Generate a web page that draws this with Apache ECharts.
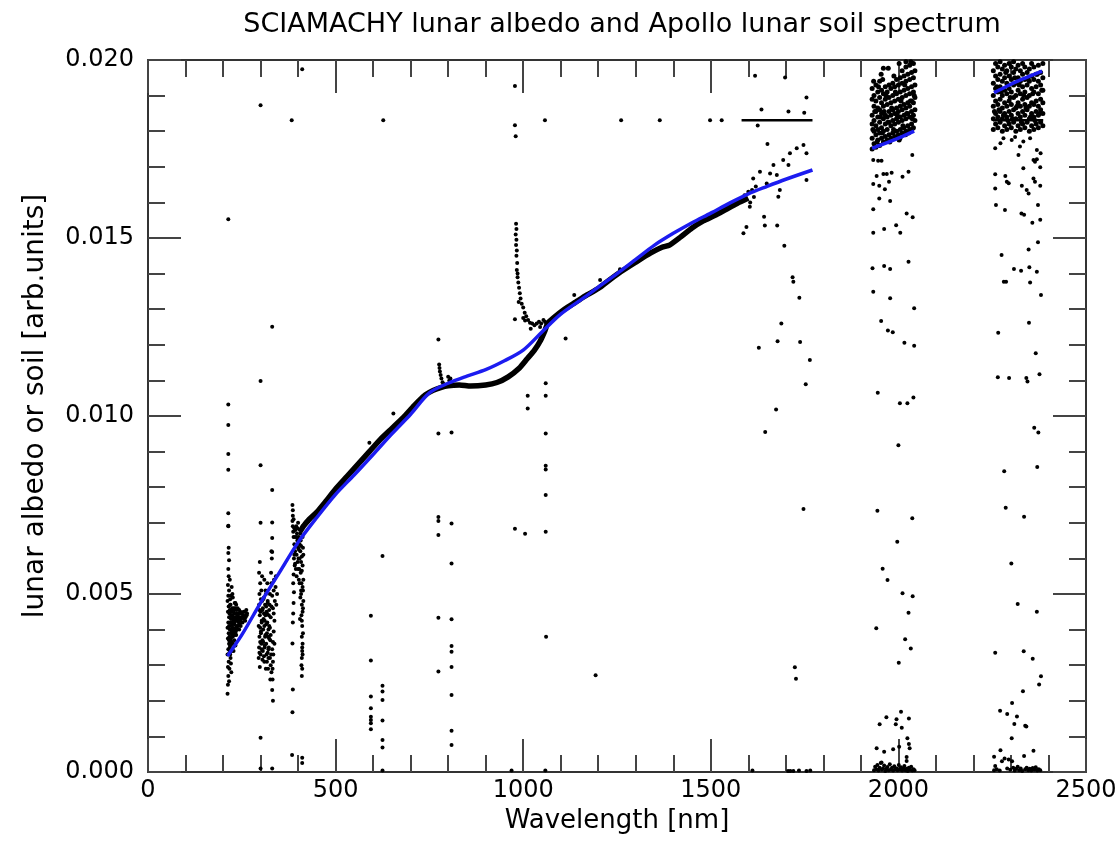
<!DOCTYPE html>
<html>
<head>
<meta charset="utf-8">
<script src="https://cdn.jsdelivr.net/npm/echarts@6/dist/echarts.min.js"></script>
<style>
html,body{margin:0;padding:0;background:#fff;}
#chart{width:1120px;height:841px;}
</style>
</head>
<body>
<div id="chart"></div>
<script>
// ---------------- DATA (y values in units of 1e-3) ----------------
const TITLE = 'SCIAMACHY lunar albedo and Apollo lunar soil spectrum';
const X_NAME = 'Wavelength [nm]';
const Y_NAME = 'lunar albedo or soil [arb.units]';
const X_TICKS = [0, 500, 1000, 1500, 2000, 2500];
const Y_TICKS = [0.000, 0.005, 0.010, 0.015, 0.020];

// Apollo lunar soil spectrum (blue), three segments
const soilSeg1 = [[212,3.26],[250,3.85],[300,4.75],[350,5.6],[400,6.45],[450,7.15],[500,7.8],[550,8.35],[600,8.92],[650,9.5],[700,10.05],[750,10.65],[800,10.92],[850,11.12],[900,11.3],[950,11.55],[1000,11.85],[1050,12.36],[1100,12.86],[1160,13.31],[1200,13.62],[1250,14.0],[1300,14.4],[1350,14.8],[1400,15.13],[1450,15.43],[1500,15.7],[1550,15.98],[1600,16.24],[1650,16.45],[1700,16.65],[1771,16.91]];
const soilSeg2 = [[1930,17.52],[1970,17.68],[2010,17.85],[2042,18.0]];
const soilSeg3 = [[2255,19.08],[2290,19.27],[2330,19.46],[2383,19.69]];

// SCIAMACHY albedo: dense continuous trace (drawn as thick band)
const albedoTrace = [[405,6.75],[414,6.9],[430,7.1],[450,7.3],[470,7.55],[500,7.95],[530,8.3],[560,8.65],[590,9.0],[620,9.35],[650,9.65],[680,9.95],[710,10.3],[740,10.6],[760,10.72],[780,10.8],[800,10.85],[830,10.87],[860,10.84],[900,10.87],[930,10.94],[960,11.1],[990,11.35],[1010,11.6],[1030,11.85],[1045,12.1],[1058,12.4],[1065,12.6],[1080,12.75],[1110,13.0],[1140,13.2],[1170,13.4],[1200,13.58],[1230,13.82],[1260,14.05],[1300,14.32],[1340,14.58],[1370,14.74],[1390,14.8],[1420,15.03],[1450,15.28],[1480,15.48],[1510,15.63],[1540,15.8],[1570,15.97],[1600,16.12]];
// flag lines at 0.0183
const flagLine1 = [[1582,18.31],[1771,18.31]];
const flagLine2 = [[2252,18.31],[2386,18.31]];

// UV clusters
const albedoUV1 = [[212,2.2],[213,2.45],[214,2.7],[213,2.95],[215,3.1],[212,3.3],[214,3.45],[216,3.6],[213,3.75],[215,3.9],[212,4.05],[214,4.2],[216,4.35],[213,4.5],[215,4.65],[212,4.8],[214,4.95],[216,5.1],[213,5.25],[215,5.5],[214,5.7],[216,5.95],[214,6.15],[215,6.3],[214,6.9],[216,2.55],[217,2.9],[218,3.5],[220,3.7],[222,3.9],[219,4.1],[221,4.3],[223,4.5],[220,4.7],[224,3.6],[226,3.8],[225,4.0],[227,4.2],[224,4.4],[228,4.6],[226,4.9],[230,3.7],[229,3.95],[231,4.15],[232,4.35],[230,4.55],[233,4.75],[235,3.85],[234,4.05],[236,4.25],[237,4.45],[238,4.1],[240,4.3],[239,4.6],[242,4.2],[241,4.45],[244,4.35],[246,4.5],[243,4.0],[248,4.3],[250,4.45],[252,4.2],[254,4.4],[256,4.3],[258,4.5],[260,4.35],[262,4.55],[264,4.45],[219,3.3],[221,3.05],[223,5.2],[218,5.4],[220,3.2],[225,5.0],[222,2.8],[217,3.8],[219,4.85],[228,3.4],[233,3.55],
  [217,3.35],[219,3.55],[221,3.75],[223,3.95],[225,4.15],[227,4.35],[229,4.55],[231,4.75],[218,4.0],[220,4.2],[222,4.4],[224,4.6],[226,4.3],[228,4.0],[230,4.2],[232,3.9],[234,4.3],[236,4.0],[238,4.4],[240,4.1],[242,4.35],[244,4.15],[246,4.25],[248,4.45],[218,4.55],[220,3.45],[222,3.65],[224,3.85],[226,4.05],[228,4.25],[230,4.45],[232,4.6],[234,3.95],[236,4.55],[216,3.7],[216,4.1],[217,4.45],[219,4.7],[221,4.95],[223,3.4],[227,3.6],[231,3.85],[235,4.7],[239,4.25],[243,4.55],[247,4.1],[251,4.35],[255,4.5],[259,4.25],[263,4.4]];
const albedoUV2 = [[295,3.2],[296,3.5],[297,3.8],[295,4.1],[298,4.4],[296,4.7],[297,5.0],[299,5.3],[296,5.6],[298,5.9],[300,3.3],[302,3.6],[301,3.9],[303,4.2],[300,4.5],[304,4.8],[302,5.1],[306,3.4],[305,3.7],[307,4.0],[308,4.3],[306,4.6],[309,4.9],[310,3.1],[311,3.5],[312,3.8],[310,4.1],[313,4.4],[312,4.7],[314,5.0],[316,3.3],[315,3.6],[317,3.9],[318,4.2],[316,4.5],[319,4.8],[320,2.9],[321,3.2],[322,3.5],[320,3.8],[323,4.1],[322,4.4],[324,4.7],[325,5.0],[326,2.6],[327,3.0],[328,3.3],[326,3.7],[329,5.3],[328,5.6],[330,6.0],[329,6.2],[331,2.3],[332,2.6],[333,2.0],[332,2.9],[334,3.3],[333,4.6],[335,5.1],[336,5.4],[338,4.8],[340,5.2],[342,4.7],[344,5.0],[341,5.5],[304,5.5],[298,2.95],[318,5.3],[310,5.4],[314,2.9],
  [297,3.35],[299,3.65],[301,3.95],[303,4.25],[305,4.55],[307,4.85],[309,3.25],[311,3.55],[313,3.85],[315,4.15],[317,4.45],[319,4.75],[321,3.45],[323,3.75],[325,4.05],[327,4.35],[329,4.65],[331,4.95],[333,3.65],[335,3.95],[337,4.25],[299,4.05],[303,3.45],[307,3.65],[311,4.25],[315,4.65],[319,3.35],[323,4.55],[327,3.85],[331,3.45],[335,4.45],[297,4.55],[301,4.85],[305,3.15],[309,4.45],[313,5.1],[317,3.1],[321,4.0],[325,3.2],[329,2.8],[333,3.1],[337,3.6]];
const albedoUV3 = [[385,7.5],[386,7.35],[386,7.2],[385,7.05],[386,6.9],[387,6.75],[388,6.6],[390,6.4],[392,6.2],[389,6.0],[391,5.8],[388,5.55],[387,5.3],[389,5.05],[388,4.75],[387,4.45],[386,4.2],[385,3.61],[386,2.32],[385,1.68],[384,0.48],[395,6.9],[397,6.7],[398,6.5],[400,6.3],[396,6.1],[399,5.9],[402,6.6],[404,6.4],[401,6.0],[403,5.7],[405,6.8],[407,6.5],[406,6.2],[408,5.9],[407,5.6],[409,5.3],[408,5.0],[410,4.7],[409,4.4],[411,4.1],[410,3.8],[411,3.5],[410,3.2],[411,2.9],[410,2.7],[412,6.9],[413,6.3],[412,5.8],[414,5.4],[413,5.1],[412,4.5],[413,3.9],[412,3.3],[400,7.0],[393,6.8],[394,5.7],[402,5.4],[406,4.9],[405,4.3],[411,0.25],[411,0.4],
  [388,7.1],[390,6.85],[392,6.6],[394,6.35],[396,6.6],[398,6.85],[400,6.55],[402,6.25],[404,6.0],[406,6.7],[408,6.35],[410,6.05],[412,6.6],[390,6.1],[392,5.85],[396,5.5],[400,5.7],[404,5.3],[408,5.1],[410,5.65],[412,5.2],[414,6.1],[414,4.8],[410,4.25],[412,3.6],[409,3.0],[411,3.4],[413,4.6]];

// spikes and fuzz around the trace
const albedoSpikes = [[776,11.45],[777,11.35],[778,11.25],[780,11.15],[782,11.05],[785,10.95],[788,10.9],[800,11.1],[803,11.0],[806,11.05],[981,15.4],[982,15.25],[980,15.1],[982,14.95],[981,14.8],[983,14.65],[982,14.5],[984,14.3],[983,14.1],[985,13.9],[987,13.75],[989,13.6],[991,13.45],[993,13.3],[996,13.15],[1000,13.05],[1004,12.9],[1008,12.8],[1013,12.7],[1018,12.62],[1024,12.6],[1030,12.55],[1036,12.6],[1042,12.65],[1048,12.6],[1054,12.7],[1058,12.65],[1062,12.6],[985,14.0],[988,13.2],[1000,12.75],[1020,12.45],[1045,12.5],[654,10.07],[590,9.25],[1136,13.4],[1205,13.82],[1258,14.12],[1600,16.3],[1610,16.35],[1620,16.45],[1590,16.2],[1605,16.0],[1615,16.15]];

// isolated points
const albedoOutliers = [[214,15.53],[300,18.73],[383,18.31],[411,19.74],[627,18.31],[978,19.27],[978,18.17],[980,17.86],[1058,18.31],[1261,18.31],[1364,18.31],[1498,18.31],[1529,18.31],[214,10.32],[214,9.75],[214,8.93],[214,8.49],[214,7.27],[214,6.92],[300,10.98],[300,8.62],[300,7.0],[300,0.96],[300,0.1],[331,12.51],[331,7.92],[331,7.01],[331,6.57],[331,6.18],[331,0.1],[594,4.39],[594,3.13],[594,2.12],[594,1.79],[594,1.55],[594,1.46],[594,1.37],[594,1.2],[625,6.07],[625,2.42],[625,2.26],[625,2.02],[625,1.45],[625,0.9],[625,0.69],[625,0.04],[774,12.15],[774,9.51],[774,7.16],[774,7.05],[774,6.66],[774,4.33],[774,2.82],[809,9.54],[809,6.98],[809,5.86],[809,4.29],[809,3.54],[809,3.38],[809,2.95],[809,2.16],[809,1.16],[809,0.76],[978,12.72],[1005,12.68],[1012,10.57],[1012,10.21],[978,6.83],[1005,6.69],[969,0.04],[1060,10.92],[1060,10.57],[1060,9.51],[1060,8.6],[1060,8.5],[1060,7.78],[1060,6.75],[1061,3.80],[1059,0.04],[1113,12.18],[1193,2.72]];

// 1600-1780 nm region
const albedoSWIR1 = [[1618,19.56],[1698,19.51],[1635,18.61],[1707,18.55],[1749,18.52],[1755,18.95],[1625,18.16],[1651,17.64],[1711,17.38],[1729,17.52],[1747,17.61],[1755,17.38],[1693,17.19],[1707,17.05],[1667,17.05],[1631,16.86],[1658,16.81],[1676,16.77],[1613,16.67],[1649,16.53],[1684,16.35],[1755,16.63],[1604,15.88],[1642,15.6],[1644,15.35],[1677,15.35],[1595,15.31],[1587,15.13],[1696,14.78],[1718,13.9],[1720,13.77],[1736,13.32],[1680,16.16],[1688,12.6],[1628,11.92],[1678,12.1],[1738,12.08],[1764,11.57],[1753,10.89],[1674,10.18],[1645,9.55],[1747,7.39],[1724,2.94],[1727,2.62],[1611,0.04],[1706,0.03],[1712,0.03],[1720,0.03],[1735,0.04],[1755,0.03],[1765,0.04]];

// ~2000 nm channel
const albedo2000Dense = [
  [1930,17.5],[1930,17.8],[1930,18.2],[1930,18.45],[1930,18.9],[1930,19.2],
  [1935,17.65],[1935,18.0],[1935,18.3],[1935,18.7],[1935,19.0],
  [1940,17.55],[1940,17.9],[1940,18.15],[1940,18.55],[1940,18.85],[1940,19.3],
  [1945,17.75],[1945,18.05],[1945,18.4],[1945,18.65],[1945,19.1],
  [1950,17.6],[1950,17.95],[1950,18.25],[1950,18.6],[1950,18.95],[1950,19.4],
  [1955,17.8],[1955,18.1],[1955,18.5],[1955,18.8],[1955,19.15],
  [1960,17.7],[1960,18.0],[1960,18.35],[1960,18.7],[1960,19.05],
  [1965,17.85],[1965,18.2],[1965,18.45],[1965,18.9],[1965,19.25],
  [1970,17.75],[1970,18.05],[1970,18.4],[1970,18.75],[1970,19.1],
  [1975,17.9],[1975,18.25],[1975,18.55],[1975,18.95],[1975,19.3],
  [1980,17.8],[1980,18.15],[1980,18.45],[1980,18.8],[1980,19.2],
  [1985,17.95],[1985,18.3],[1985,18.6],[1985,19.0],[1985,19.35],
  [1990,17.85],[1990,18.2],[1990,18.5],[1990,18.85],[1990,19.25],
  [1995,18.0],[1995,18.35],[1995,18.65],[1995,19.05],[1995,19.45],
  [2000,17.9],[2000,18.25],[2000,18.55],[2000,18.9],[2000,19.3],
  [2005,18.05],[2005,18.4],[2005,18.7],[2005,19.1],[2005,19.5],
  [2010,17.95],[2010,18.3],[2010,18.6],[2010,18.95],[2010,19.35],[2010,19.7],
  [2015,18.1],[2015,18.45],[2015,18.75],[2015,19.15],[2015,19.55],
  [2020,18.0],[2020,18.35],[2020,18.65],[2020,19.0],[2020,19.4],[2020,19.8],
  [2025,18.15],[2025,18.5],[2025,18.8],[2025,19.2],[2025,19.6],
  [2030,18.05],[2030,18.4],[2030,18.7],[2030,19.05],[2030,19.45],[2030,19.85],
  [2035,18.2],[2035,18.55],[2035,18.85],[2035,19.25],[2035,19.65],
  [2040,18.1],[2040,18.45],[2040,18.8],[2040,19.1],[2040,19.5],[2040,19.9],
  [2044,18.3],[2044,18.6],[2044,18.95],[2044,19.3],[2044,19.7],
  [1932,18.05],[1937,18.55],[1943,17.7],[1947,19.25],[1952,18.4],[1957,17.95],[1962,18.55],[1967,19.0],[1972,18.25],[1977,17.7],[1982,18.65],[1987,18.05],[1992,19.1],[1997,18.45],[2002,17.75],[2007,18.85],[2012,18.15],[2017,19.3],[2022,18.5],[2027,17.95],[2032,18.85],[2037,18.35],[2042,19.0],[1934,19.4],[1958,19.45],[1988,19.55],[2004,17.8],[2019,17.9],[2036,18.05],
  [1960,19.77],[1973,19.77],[2002,19.9],[2020,19.95],[2033,19.95],[1954,19.6]];
const albedo2000Sparse = [[1933,17.19],[1946,17.17],[1955,17.17],[1942,16.74],[1960,16.8],[1969,16.8],[1982,16.83],[2011,16.72],[2027,16.86],[2037,17.33],[1933,16.52],[1949,16.47],[1964,16.37],[1975,16.58],[1949,16.11],[1978,16.04],[1933,15.81],[2022,15.69],[2038,15.58],[1933,15.15],[1962,15.25],[1994,15.36],[2005,15.15],[1931,14.15],[1962,14.21],[1978,14.13],[2027,14.33],[1933,13.49],[1978,13.31],[2042,13.03],[1954,12.67],[1972,12.4],[1985,12.35],[2016,12.06],[2042,11.97],[1945,10.65],[2004,10.36],[2024,10.36],[2040,10.52],[2000,9.18],[1944,7.34],[2037,7.13],[1997,6.47],[1958,5.71],[1971,5.39],[2011,5.02],[2038,4.94],[2027,4.47],[1941,4.04],[2018,3.73],[2033,3.47],[2001,3.07],[2007,1.69],[1968,1.54],[1995,1.48],[2028,1.5],[1950,1.34],[1993,1.34],[2009,1.24],[2024,0.95],[2028,0.79],[2030,0.67],[1942,0.67],[1962,0.57],[1986,0.64],[2002,0.71],[2022,0.42],[2022,0.31],[1955,0.27],[1935,0.05],[1938,0.15],[1941,0.08],[1944,0.2],[1947,0.04],[1950,0.12],[1953,0.25],[1956,0.06],[1959,0.1],[1962,0.18],[1965,0.03],[1968,0.09],[1971,0.14],[1974,0.05],[1977,0.22],[1980,0.07],[1983,0.12],[1986,0.04],[1989,0.16],[1992,0.08],[1995,0.1],[1998,0.05],[2001,0.2],[2004,0.06],[2007,0.13],[2010,0.04],[2013,0.1],[2016,0.17],[2019,0.05],[2022,0.09],[2025,0.03],[2028,0.12],[2031,0.06],[2034,0.15],[2037,0.04],[2040,0.08],[2043,0.05]];

// ~2300 nm channel
const albedo2300Dense = [
  [2253,18.05],[2253,18.35],[2253,18.7],[2253,19.0],[2253,19.35],[2253,19.7],
  [2259,18.2],[2259,18.5],[2259,18.85],[2259,19.2],[2259,19.55],[2259,19.9],
  [2265,18.1],[2265,18.4],[2265,18.75],[2265,19.1],[2265,19.45],[2265,19.8],
  [2271,18.25],[2271,18.55],[2271,18.9],[2271,19.25],[2271,19.6],[2271,19.95],
  [2277,18.0],[2277,18.35],[2277,18.65],[2277,19.0],[2277,19.4],[2277,19.75],
  [2283,18.15],[2283,18.5],[2283,18.8],[2283,19.15],[2283,19.5],[2283,19.85],
  [2289,18.05],[2289,18.4],[2289,18.7],[2289,19.05],[2289,19.35],[2289,19.7],
  [2295,18.2],[2295,18.55],[2295,18.85],[2295,19.2],[2295,19.55],[2295,19.9],
  [2301,18.1],[2301,18.45],[2301,18.75],[2301,19.1],[2301,19.45],[2301,19.8],
  [2307,18.25],[2307,18.6],[2307,18.95],[2307,19.3],[2307,19.65],[2307,19.95],
  [2313,18.0],[2313,18.35],[2313,18.65],[2313,19.0],[2313,19.35],[2313,19.75],
  [2319,18.15],[2319,18.5],[2319,18.8],[2319,19.15],[2319,19.5],[2319,19.85],
  [2325,18.05],[2325,18.4],[2325,18.7],[2325,19.05],[2325,19.4],[2325,19.7],
  [2331,18.2],[2331,18.55],[2331,18.9],[2331,19.25],[2331,19.6],[2331,19.9],
  [2337,18.1],[2337,18.45],[2337,18.75],[2337,19.1],[2337,19.45],[2337,19.8],
  [2343,18.25],[2343,18.6],[2343,18.95],[2343,19.3],[2343,19.65],
  [2349,18.0],[2349,18.35],[2349,18.7],[2349,19.0],[2349,19.4],[2349,19.75],
  [2355,18.15],[2355,18.5],[2355,18.8],[2355,19.2],[2355,19.55],[2355,19.9],
  [2361,18.05],[2361,18.4],[2361,18.75],[2361,19.1],[2361,19.45],[2361,19.8],
  [2367,18.2],[2367,18.55],[2367,18.85],[2367,19.25],[2367,19.6],
  [2373,18.1],[2373,18.45],[2373,18.7],[2373,19.05],[2373,19.4],[2373,19.85],
  [2379,18.25],[2379,18.6],[2379,18.9],[2379,19.3],[2379,19.65],
  [2385,18.15],[2385,18.5],[2385,18.8],[2385,19.15],[2385,19.5],[2385,19.9],
  [2256,18.55],[2262,19.25],[2268,18.6],[2274,19.1],[2280,18.45],[2286,19.65],[2292,18.3],[2298,18.95],[2304,18.35],[2310,19.5],[2316,18.7],[2322,19.3],[2328,18.25],[2334,19.0],[2340,18.65],[2346,19.5],[2352,18.4],[2358,19.05],[2364,18.3],[2370,19.6],[2376,18.5],[2382,19.15]];
const albedo2300Sparse = [[2258,17.52],[2272,17.66],[2280,17.8],[2302,17.75],[2311,17.84],[2324,17.57],[2333,17.71],[2351,17.8],[2369,17.47],[2379,17.38],[2320,17.33],[2360,17.19],[2364,17.14],[2369,17.21],[2333,16.96],[2378,16.99],[2258,16.79],[2285,16.74],[2289,16.58],[2294,16.54],[2329,16.47],[2342,16.35],[2347,16.25],[2360,16.67],[2364,16.58],[2378,16.47],[2258,16.39],[2260,15.93],[2284,15.79],[2328,15.69],[2335,15.65],[2357,15.43],[2372,15.93],[2378,15.51],[2275,14.52],[2347,14.68],[2372,14.88],[2281,13.77],[2287,13.77],[2308,14.13],[2327,14.08],[2349,14.18],[2369,14.05],[2351,13.75],[2380,13.4],[2348,12.62],[2266,12.34],[2366,11.76],[2265,11.09],[2295,11.07],[2341,11.07],[2344,10.97],[2376,11.17],[2362,9.67],[2373,9.54],[2370,8.57],[2282,8.45],[2286,7.42],[2335,7.17],[2301,5.86],[2318,4.72],[2369,4.5],[2258,3.35],[2334,3.39],[2358,3.18],[2380,2.69],[2375,2.46],[2332,2.27],[2303,1.94],[2271,1.72],[2290,1.63],[2316,1.56],[2309,1.35],[2338,1.3],[2341,1.28],[2302,0.95],[2272,0.61],[2360,0.6],[2255,0.43],[2255,0.05],[2258,0.17],[2262,0.08],[2270,0.04],[2276,0.3],[2283,0.38],[2290,0.1],[2294,0.35],[2298,0.06],[2303,0.3],[2306,0.12],[2310,0.04],[2314,0.09],[2318,0.15],[2322,0.05],[2326,0.1],[2330,0.03],[2335,0.45],[2338,0.08],[2342,0.12],[2346,0.05],[2350,0.09],[2354,0.04],[2358,0.11],[2362,0.06],[2366,0.13],[2370,0.04],[2374,0.08],[2378,0.05]];

// ---------------- CHART ----------------
const FONT = 'DejaVu Sans';
const AXIS_COLOR = '#333';
const TICK_COLOR = '#444';
const BLUE = '#1c1cf0';

function mkAxis(kind, pos, showLabels) {
  const isX = kind === 'x';
  const a = {
    type: 'value',
    position: pos,
    min: isX ? X_TICKS[0] : Y_TICKS[0] * 1000,
    max: isX ? X_TICKS[X_TICKS.length - 1] : Y_TICKS[Y_TICKS.length - 1] * 1000,
    interval: isX ? (X_TICKS[1] - X_TICKS[0]) : (Y_TICKS[1] - Y_TICKS[0]) * 1000,
    axisLine: { show: true, onZero: false, lineStyle: { color: AXIS_COLOR, width: 2 } },
    axisTick: { show: true, inside: true, length: 33, lineStyle: { color: TICK_COLOR, width: 2 } },
    minorTick: { show: true, splitNumber: 5, length: 17, lineStyle: { color: TICK_COLOR, width: 2 } },
    splitLine: { show: false },
    minorSplitLine: { show: false },
    axisLabel: {
      show: showLabels,
      fontFamily: FONT, fontSize: 24, color: '#000',
      margin: isX ? 7 : 14,
      formatter: isX ? (v => String(v)) : (v => (v / 1000).toFixed(3))
    }
  };
  if (showLabels) {
    a.name = isX ? X_NAME : Y_NAME;
    a.nameLocation = 'middle';
    a.nameGap = isX ? 35 : 98;
    a.nameTextStyle = isX
      ? { fontFamily: FONT, fontSize: 26, color: '#000' }
      : { fontFamily: FONT, fontSize: 28, color: '#000', padding: [0, 0, 0, 20] };
  }
  return a;
}

function scatter(data, size) {
  return { type: 'scatter', data: data, symbol: 'circle', symbolSize: size || 4,
    itemStyle: { color: '#000', opacity: 1 }, z: 3, silent: true, clip: true };
}
function line(data, color, width, z, smooth) {
  return { type: 'line', data: data, showSymbol: false, smooth: smooth || false,
    lineStyle: { color: color, width: width }, itemStyle: { color: color }, z: z, silent: true, clip: true };
}

const chart = echarts.init(document.getElementById('chart'), null, { renderer: 'canvas' });
chart.setOption({
  animation: false,
  backgroundColor: '#fff',
  title: {
    text: TITLE, left: 617, top: 6, textAlign: 'center',
    textStyle: { fontFamily: FONT, fontSize: 27, fontWeight: 'normal', color: '#000' }
  },
  grid: { left: 148, right: 34, top: 60, bottom: 69, containLabel: false },
  xAxis: [mkAxis('x', 'bottom', true), mkAxis('x', 'top', false)],
  yAxis: [mkAxis('y', 'left', true), mkAxis('y', 'right', false)],
  series: [
    line(albedoTrace, '#000', 5.5, 2, 0.2),
    line(flagLine1, '#000', 2.5, 2),
    line(flagLine2, '#000', 2.5, 2),
    scatter(albedoUV1), scatter(albedoUV2), scatter(albedoUV3),
    scatter(albedoSpikes), scatter(albedoOutliers), scatter(albedoSWIR1),
    scatter(albedo2000Dense, 5), scatter(albedo2000Sparse),
    scatter(albedo2300Dense, 5), scatter(albedo2300Sparse),
    line(soilSeg1, BLUE, 3.5, 5, 0.3),
    line(soilSeg2, BLUE, 3.5, 5, 0.3),
    line(soilSeg3, BLUE, 3.5, 5, 0.3)
  ]
});
</script>
</body>
</html>
